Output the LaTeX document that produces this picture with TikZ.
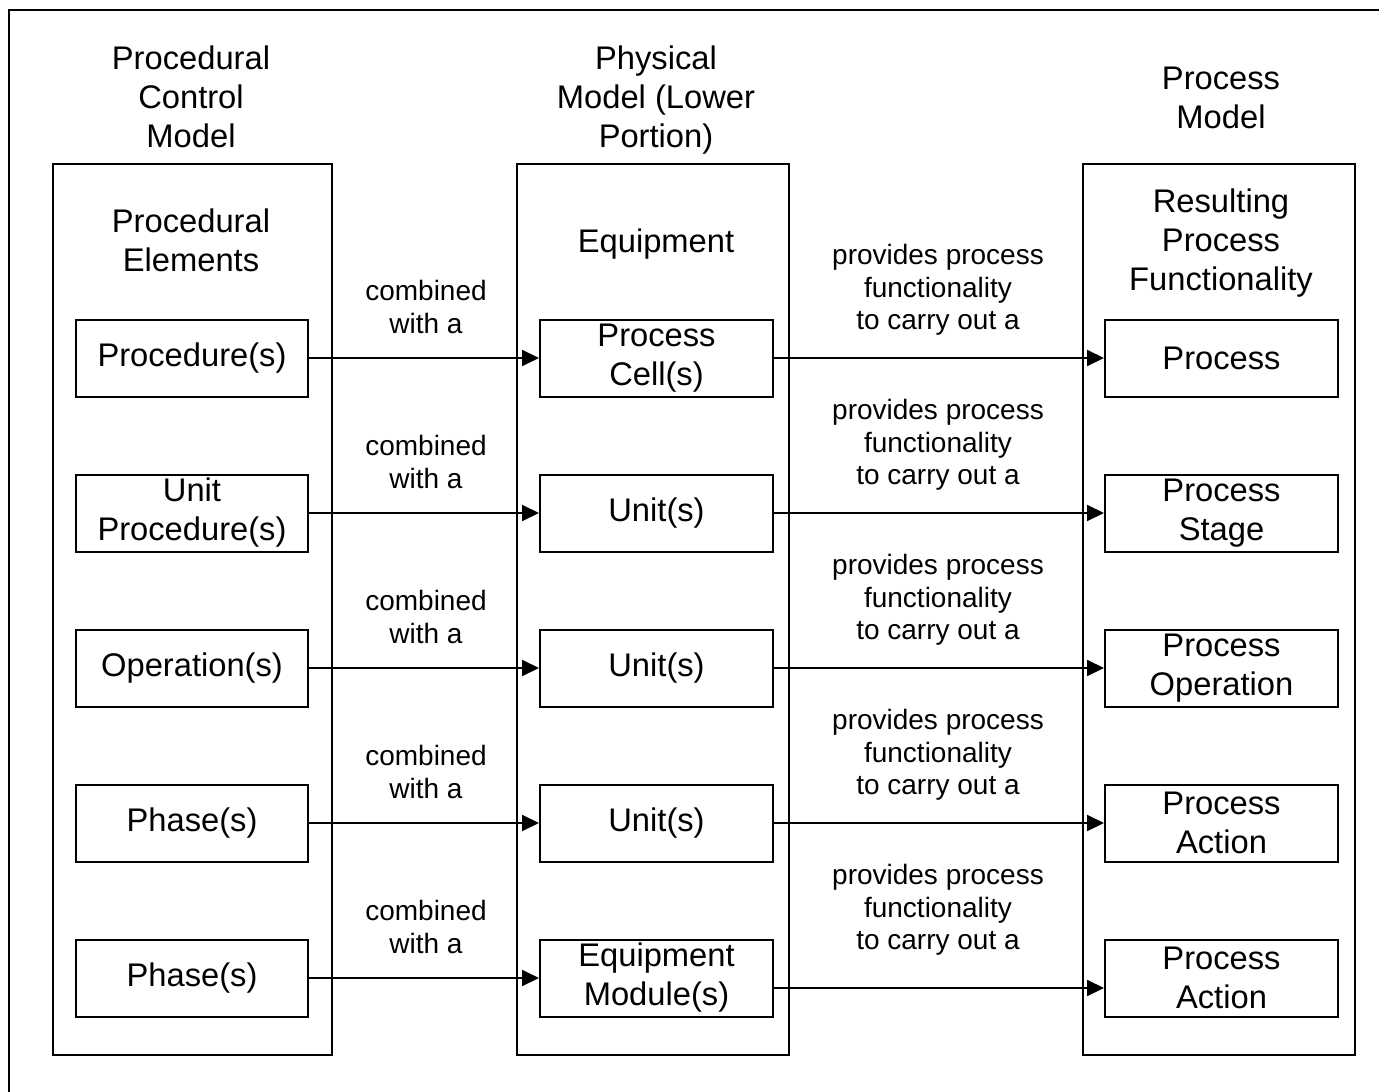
\documentclass[tikz,border=0pt]{standalone}
\usepackage{fontspec}
\setmainfont{Liberation Sans}
\usetikzlibrary{arrows.meta}
\begin{document}
\begin{tikzpicture}[x=1pt,y=-1pt,
  column/.style={draw,line width=2pt,minimum width=279pt,minimum height=891pt,inner sep=0pt},
  item/.style={draw,line width=2pt,minimum width=232pt,minimum height=77pt,inner sep=0pt,
    align=center,font=\fontsize{32.7}{39}\selectfont},
  heading/.style={align=center,font=\fontsize{32.7}{39}\selectfont,inner sep=0pt},
  note/.style={align=center,font=\fontsize{28}{32.5}\selectfont,inner sep=0pt},
  link/.style={line width=2pt,-{Triangle[length=17pt,width=16pt]}}]
\useasboundingbox (0,0) rectangle (1379,1092);
% frame lines along the top and left
\draw[line width=1.5pt] (1379,10) -- (9,10) -- (9,1092);

% the three columns
\node[column] (colA) at (192.5,609.5) {};
\node[column,minimum width=272pt] (colB) at (653,609.5) {};
\node[column,minimum width=272pt] (colC) at (1219,609.5) {};

% headings above the columns
\node[heading] (hA) at (191,97) {Procedural\\Control\\Model};
\node[heading] (hB) at (656,100) {Physical\\Model (Lower\\Portion)};
\node[heading] (hC) at (1221,98) {Process\\Model};

% headings inside the columns
\node[heading] (sA) at (191,240) {Procedural\\Elements};
\node[heading] (sB) at (656,244) {Equipment};
\node[heading] (sC) at (1221,243) {Resulting\\Process\\Functionality};

% procedural elements
\node[item] (p1) at (192,358) {Procedure(s)};
\node[item] (p2) at (192,513) {Unit\\Procedure(s)};
\node[item] (p3) at (192,668) {Operation(s)};
\node[item] (p4) at (192,823) {Phase(s)};
\node[item] (p5) at (192,978) {Phase(s)};

% equipment
\node[item,minimum width=233pt] (e1) at (656.5,358) {Process\\Cell(s)};
\node[item,minimum width=233pt] (e2) at (656.5,513) {Unit(s)};
\node[item,minimum width=233pt] (e3) at (656.5,668) {Unit(s)};
\node[item,minimum width=233pt] (e4) at (656.5,823) {Unit(s)};
\node[item,minimum width=233pt] (e5) at (656.5,978) {Equipment\\Module(s)};

% resulting process functionality
\node[item,minimum width=233pt] (f1) at (1221.5,358) {Process};
\node[item,minimum width=233pt] (f2) at (1221.5,513) {Process\\Stage};
\node[item,minimum width=233pt] (f3) at (1221.5,668) {Process\\Operation};
\node[item,minimum width=233pt] (f4) at (1221.5,823) {Process\\Action};
\node[item,minimum width=233pt] (f5) at (1221.5,978) {Process\\Action};

% connectors and their labels
\foreach \i [evaluate=\i as \yy using 358+(\i-1)*155] in {1,...,5}{
  \draw[link] (p\i) -- (e\i);
  \node[note] (c\i) at (426,\yy-51) {combined\\with a};
  \node[note] (d\i) at (938,\yy-68) {provides process\\functionality\\to carry out a};
}
\foreach \i in {1,...,4}{
  \draw[link] (e\i) -- (f\i);
}
% the last link sits a little below the box centres
\draw[link] ([yshift=-10pt]e5.east) -- ([yshift=-10pt]f5.west);
\end{tikzpicture}
\end{document}
